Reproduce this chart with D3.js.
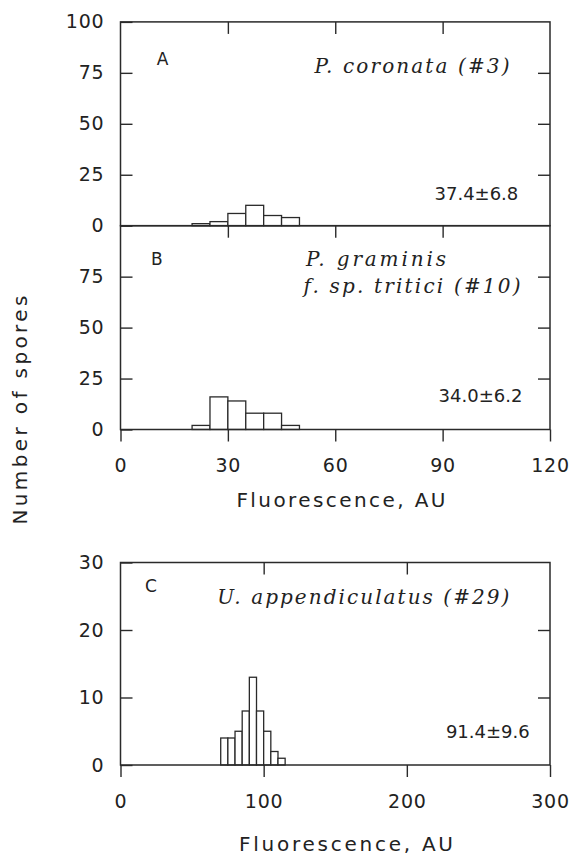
<!DOCTYPE html>
<html>
<head>
<meta charset="utf-8">
<script src="https://cdn.jsdelivr.net/npm/d3@7"></script>
<style>
  html, body { margin: 0; padding: 0; background: #fff; }
  svg { display: block; }
  .tick text { font-family: "DejaVu Sans", sans-serif; fill: #222; }
</style>
</head>
<body>
<svg id="chart" width="572" height="857"></svg>
<script>
// ---- data ----
const binWidth = 5;
const binStartsA = [20, 25, 30, 35, 40, 45];
const countsA = [1, 2, 6, 10, 5, 4];
const binStartsB = [20, 25, 30, 35, 40, 45];
const countsB = [2, 16, 14, 8, 8, 2];
const binStartsC = [70, 75, 80, 85, 90, 95, 100, 105, 110];
const countsC = [4, 4, 5, 8, 13, 8, 5, 2, 1];

const yTicksA = [0, 25, 50, 75, 100];
const yTicksB = [0, 25, 50, 75];
const yInnerAB = [25, 50, 75];
const xTicksAB = [0, 30, 60, 90, 120];
const xInnerAB = [30, 60, 90];
const yTicksC = [0, 10, 20, 30];
const yInnerC = [10, 20];
const xTicksC = [0, 100, 200, 300];
const xInnerC = [100, 200];

const statA = "37.4±6.8", statB = "34.0±6.2", statC = "91.4±9.6";
const titleA = "P. coronata (#3)";
const titleB1 = "P. graminis", titleB2 = "f. sp. tritici (#10)";
const titleC = "U. appendiculatus (#29)";
const xLabel = "Fluorescence, AU";
const yLabel = "Number of spores";

// ---- layout ----
const svg = d3.select("#chart");
const ink = "#2a2a2a";
const L = 120.5, R = 550;
const xAB = d3.scaleLinear().domain([0, 120]).range([L, R]);
const yA = d3.scaleLinear().domain([0, 100]).range([225.7, 21.9]);
const yB = d3.scaleLinear().domain([0, 100]).range([429.5, 225.7]);
const xC = d3.scaleLinear().domain([0, 300]).range([L, R]);
const yC = d3.scaleLinear().domain([0, 30]).range([765, 562.5]);

function styleAxis(g, fs) {
  g.select(".domain").remove();
  g.selectAll("line").attr("stroke", ink).attr("stroke-width", 1.4);
  g.selectAll("text").style("font-size", fs + "px").style("letter-spacing", "0.8px");
}

function bars(xs, ys, starts, counts) {
  svg.append("g").selectAll("rect").data(starts).join("rect")
    .attr("x", (d) => xs(d))
    .attr("width", (d) => xs(d + binWidth) - xs(d))
    .attr("y", (d, i) => ys(counts[i]))
    .attr("height", (d, i) => ys(0) - ys(counts[i]))
    .attr("fill", "#fff").attr("stroke", ink).attr("stroke-width", 1.3);
}

function frame(xs, ys, y0, y1) {
  svg.append("rect")
    .attr("x", xs.range()[0]).attr("y", ys(y1))
    .attr("width", xs.range()[1] - xs.range()[0])
    .attr("height", ys(y0) - ys(y1))
    .attr("fill", "none").attr("stroke", ink).attr("stroke-width", 1.5);
}

// Panel A
bars(xAB, yA, binStartsA, countsA);
frame(xAB, yA, 0, 100);
svg.append("g").attr("transform", `translate(${L},0)`)
  .call(d3.axisLeft(yA).tickValues(yTicksA).tickSizeInner(-12).tickSizeOuter(0).tickPadding(16))
  .call(g => styleAxis(g, 19));
svg.append("g").attr("transform", `translate(${R},0)`)
  .call(d3.axisRight(yA).tickValues(yInnerAB).tickSizeInner(-12).tickSizeOuter(0).tickFormat(""))
  .call(g => styleAxis(g, 19));
svg.append("g").attr("transform", `translate(0,${yA(100)})`)
  .call(d3.axisTop(xAB).tickValues(xInnerAB).tickSizeInner(-12).tickSizeOuter(0).tickFormat(""))
  .call(g => styleAxis(g, 19));
svg.append("g").attr("transform", `translate(0,${yA(0)})`)
  .call(d3.axisBottom(xAB).tickValues(xInnerAB).tickSizeInner(12).tickSizeOuter(0).tickFormat(""))
  .call(g => styleAxis(g, 19));

// Panel B
bars(xAB, yB, binStartsB, countsB);
frame(xAB, yB, 0, 100);
svg.append("g").attr("transform", `translate(${L},0)`)
  .call(d3.axisLeft(yB).tickValues(yTicksB).tickSizeInner(-12).tickSizeOuter(0).tickPadding(16))
  .call(g => styleAxis(g, 19));
svg.append("g").attr("transform", `translate(${R},0)`)
  .call(d3.axisRight(yB).tickValues(yInnerAB).tickSizeInner(-12).tickSizeOuter(0).tickFormat(""))
  .call(g => styleAxis(g, 19));
svg.append("g").attr("transform", `translate(0,${yB(0)})`)
  .call(d3.axisBottom(xAB).tickValues(xTicksAB).tickSizeInner(12).tickSizeOuter(0).tickPadding(17))
  .call(g => styleAxis(g, 19));

// Panel C
bars(xC, yC, binStartsC, countsC);
frame(xC, yC, 0, 30);
svg.append("g").attr("transform", `translate(${L},0)`)
  .call(d3.axisLeft(yC).tickValues(yTicksC).tickSizeInner(-12).tickSizeOuter(0).tickPadding(16))
  .call(g => styleAxis(g, 19));
svg.append("g").attr("transform", `translate(${R},0)`)
  .call(d3.axisRight(yC).tickValues(yInnerC).tickSizeInner(-12).tickSizeOuter(0).tickFormat(""))
  .call(g => styleAxis(g, 19));
svg.append("g").attr("transform", `translate(0,${yC(30)})`)
  .call(d3.axisTop(xC).tickValues(xInnerC).tickSizeInner(-12).tickSizeOuter(0).tickFormat(""))
  .call(g => styleAxis(g, 19));
svg.append("g").attr("transform", `translate(0,${yC(0)})`)
  .call(d3.axisBottom(xC).tickValues(xTicksC).tickSizeInner(12).tickSizeOuter(0).tickPadding(18))
  .call(g => styleAxis(g, 19));

// ---- text ----
function txt(s, x, y, opts) {
  const t = svg.append("text").attr("x", x).attr("y", y).text(s)
    .attr("fill", "#222")
    .style("font-family", opts.serif ? "'DejaVu Serif', serif" : "'DejaVu Sans', sans-serif")
    .style("font-size", opts.size + "px");
  if (opts.italic) t.style("font-style", "italic");
  if (opts.anchor) t.attr("text-anchor", opts.anchor);
  if (opts.len) t.attr("textLength", opts.len).attr("lengthAdjust", "spacing");
  return t;
}

// panel letters
txt("A", 156.7, 65, { size: 17 });
txt("B", 151, 265, { size: 17 });
txt("C", 145, 591.7, { size: 17 });

// species titles
txt(titleA, 314.5, 73.3, { size: 20, serif: true, italic: true, len: 195 });
txt(titleB1, 306, 265.5, { size: 20, serif: true, italic: true, len: 140 });
txt(titleB2, 303.5, 292.5, { size: 20, serif: true, italic: true, len: 217 });
txt(titleC, 217.3, 604.3, { size: 20, serif: true, italic: true, len: 292 });

// stats
txt(statA, 518.3, 200, { size: 18, anchor: "end" });
txt(statB, 522.4, 401.6, { size: 18, anchor: "end" });
txt(statC, 529.7, 737.7, { size: 18, anchor: "end" });

// axis titles
txt(xLabel, 236.4, 506.7, { size: 20, len: 209 });
txt(xLabel, 239, 851, { size: 20, len: 214 });
svg.append("text")
  .attr("transform", "translate(27,524.6) rotate(-90)")
  .attr("x", 0).attr("y", 0)
  .attr("textLength", 229).attr("lengthAdjust", "spacing")
  .style("font-family", "'DejaVu Sans', sans-serif")
  .style("font-size", "20px").attr("fill", "#222")
  .text(yLabel);
</script>
</body>
</html>
